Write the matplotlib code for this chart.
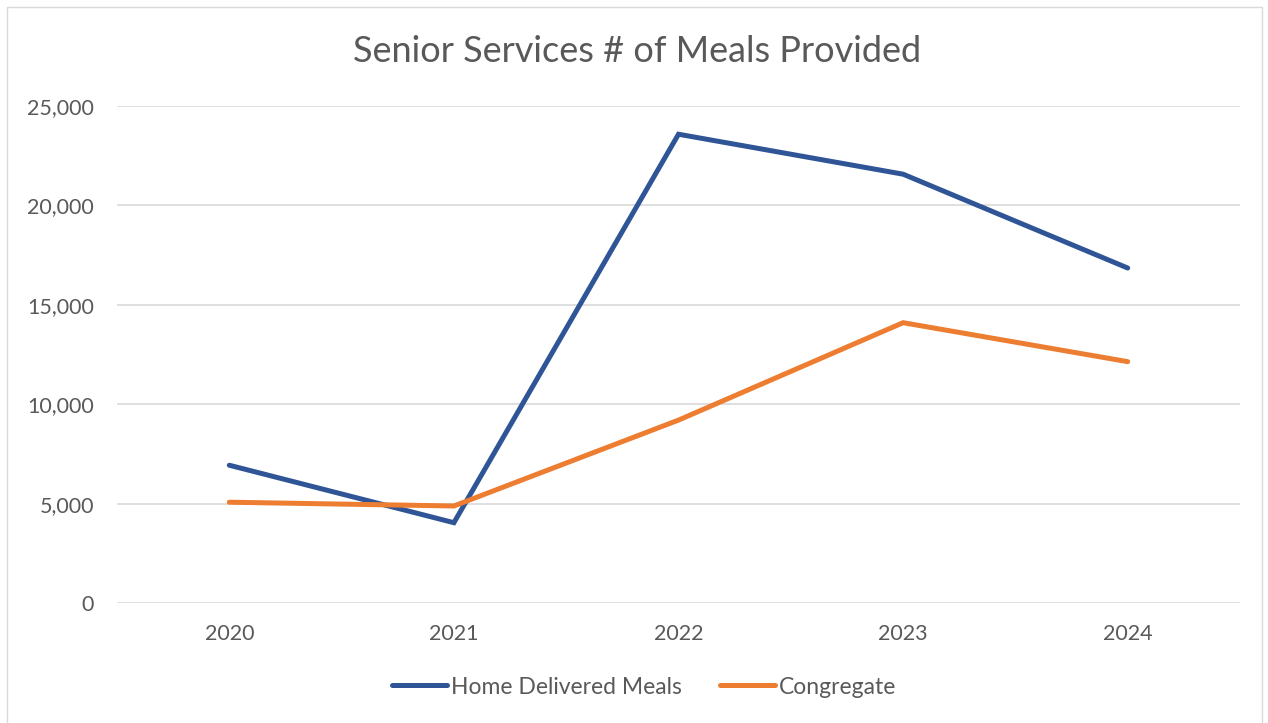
import matplotlib
matplotlib.use("Agg")
import matplotlib.pyplot as plt
from matplotlib.patches import Rectangle
from matplotlib.ticker import FuncFormatter

years = ["2020", "2021", "2022", "2023", "2024"]
home_delivered = [6930, 4040, 23580, 21570, 16850]
congregate = [5070, 4880, 9200, 14100, 12140]

BLUE = "#2F5597"
ORANGE = "#ED7D31"
TEXT = "#595959"
GRID = "#D9D9D9"

plt.rcParams["font.family"] = ["Lato", "DejaVu Sans"]

W, H = 1268, 723
fig = plt.figure(figsize=(W / 100, H / 100), dpi=100)
fig.patch.set_facecolor("white")

# chart-area border
fig.patches.append(Rectangle((7 / W, -0.05), (1262 - 7) / W, 1.05 - 7 / H,
                             transform=fig.transFigure, fill=False,
                             edgecolor=GRID, linewidth=1.0))

ax = fig.add_axes([117 / W, 1 - 603 / H, (1240 - 117) / W, (603 - 106) / H])
x = range(len(years))
ax.plot(x, home_delivered, color=BLUE, linewidth=3.6,
        solid_capstyle="round", solid_joinstyle="miter", label="Home Delivered Meals", zorder=3)
ax.plot(x, congregate, color=ORANGE, linewidth=3.6,
        solid_capstyle="round", solid_joinstyle="miter", label="Congregate", zorder=3)

ax.set_xlim(-0.5, len(years) - 0.5)
ax.set_ylim(0, 25000)
ax.set_yticks(range(0, 25001, 5000))
ax.yaxis.set_major_formatter(FuncFormatter(lambda v, p: f"{int(v):,}"))
ax.set_xticks(list(x))
ax.set_xticklabels(years)
ax.grid(axis="y", color=GRID, linewidth=1.2)
ax.set_axisbelow(True)
for s in ax.spines.values():
    s.set_visible(False)
ax.tick_params(axis="both", length=0, labelsize=15.5, colors=TEXT)
ax.tick_params(axis="y", pad=16.5)
ax.tick_params(axis="x", pad=15)

fig.text(637 / W, 1 - 51 / H, "Senior Services # of Meals Provided",
         ha="center", va="center", fontsize=26, color=TEXT)

leg = fig.legend(loc="center", bbox_to_anchor=(644 / W, 1 - 687 / H), ncol=2,
                 frameon=False, fontsize=16.5, handlelength=2.4, handletextpad=0.18,
                 columnspacing=1.65)
for t in leg.get_texts():
    t.set_color(TEXT)

fig.savefig("out.png", dpi=100, facecolor="white")
